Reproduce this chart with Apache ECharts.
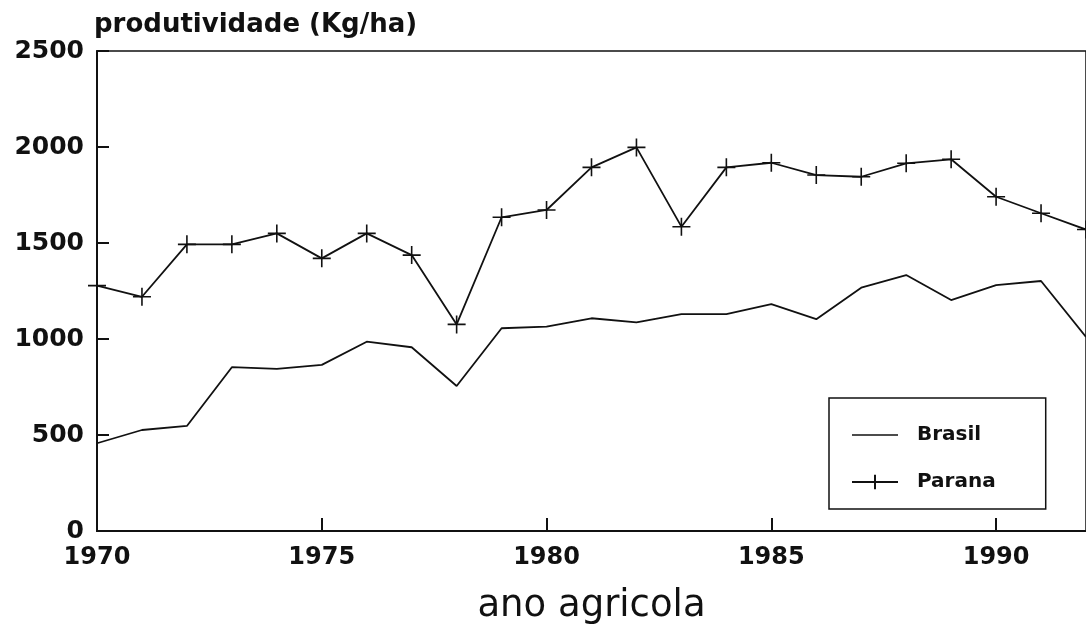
<!DOCTYPE html>
<html>
<head>
<meta charset="utf-8">
<script src="https://cdn.jsdelivr.net/npm/echarts@6/dist/echarts.min.js"></script>
<style>
  html, body { margin: 0; padding: 0; background: #fff; }
  #chart { width: 1086px; height: 635px; }
</style>
</head>
<body>
<div id="chart"></div>
<script>
// ano agricola
const years = [1970, 1971, 1972, 1973, 1974, 1975, 1976, 1977, 1978, 1979, 1980,
  1981, 1982, 1983, 1984, 1985, 1986, 1987, 1988, 1989, 1990, 1991, 1992];
// produtividade (Kg/ha)
const brasil = [457, 526, 547, 853, 844, 865, 986, 957, 755, 1056, 1064,
  1108, 1087, 1130, 1130, 1182, 1103, 1267, 1333, 1203, 1281, 1302, 1011];
const parana = [1278, 1220, 1493, 1493, 1550, 1420, 1550, 1437, 1076, 1634, 1672,
  1894, 1998, 1585, 1894, 1918, 1854, 1845, 1915, 1936, 1741, 1655, 1570];
const xTicks = [1970, 1975, 1980, 1985, 1990];
const yTicks = [0, 500, 1000, 1500, 2000, 2500];

const ink = '#111';
const plus = 'path://M0,9L18,9M9,0L9,18';
// plain line for the Brasil legend entry (corner points keep the box size)
const dash = 'path://M0,0L0,0M0,8.2L46,8.2L46,9.8L0,9.8ZM46,18L46,18';

const chart = echarts.init(document.getElementById('chart'));
chart.setOption({
  animation: false,
  backgroundColor: '#fff',
  title: {
    text: 'produtividade (Kg/ha)',
    left: 94,
    top: 12,
    padding: 0,
    textStyle: { fontFamily: 'DejaVu Sans', fontWeight: 'bold', fontSize: 26, color: ink }
  },
  grid: {
    left: 97, right: -8, top: 51, bottom: 104,
    show: true, borderColor: ink, borderWidth: 1.5
  },
  legend: {
    data: [{ name: 'Brasil', icon: dash }, { name: 'Parana' }],
    orient: 'vertical',
    left: 829,
    top: 398,
    itemWidth: 46,
    itemHeight: 18,
    itemGap: 27,
    padding: [27, 50, 17, 22],
    borderColor: ink,
    borderWidth: 1.5,
    textStyle: { fontFamily: 'DejaVu Sans', fontWeight: 'bold', fontSize: 20, color: ink, padding: [0, 0, 0, 14] }
  },
  xAxis: {
    type: 'value',
    min: xTicks[0],
    max: years[years.length - 1],
    interval: 5,
    name: 'ano agricola',
    nameLocation: 'middle',
    nameGap: 57,
    nameTextStyle: { fontFamily: 'DejaVu Sans', fontSize: 37, color: ink },
    axisLine: { lineStyle: { color: ink, width: 2 } },
    axisTick: { inside: true, length: 13, lineStyle: { color: ink, width: 2 } },
    axisLabel: {
      margin: 15,
      showMaxLabel: false,
      fontFamily: 'DejaVu Sans', fontWeight: 'bold', fontSize: 24, color: ink,
      formatter: v => (xTicks.indexOf(v) >= 0 ? String(v) : '')
    },
    splitLine: { show: false }
  },
  yAxis: {
    type: 'value',
    min: yTicks[0],
    max: yTicks[yTicks.length - 1],
    interval: 500,
    axisLine: { show: true, lineStyle: { color: ink, width: 2 } },
    axisTick: { show: true, inside: true, length: 12, lineStyle: { color: ink, width: 2 } },
    axisLabel: {
      margin: 13,
      fontFamily: 'DejaVu Sans', fontWeight: 'bold', fontSize: 25, color: ink,
      formatter: v => String(v)
    },
    splitLine: { show: false }
  },
  series: [
    {
      name: 'Brasil',
      type: 'line',
      symbol: 'none',
      lineStyle: { color: ink, width: 1.8 },
      itemStyle: { color: ink },
      data: years.map((y, i) => [y, brasil[i]])
    },
    {
      name: 'Parana',
      type: 'line',
      symbol: plus,
      symbolSize: 18,
      showAllSymbol: true,
      lineStyle: { color: ink, width: 1.8 },
      itemStyle: { color: 'none', borderColor: ink, borderWidth: 1.6 },
      data: years.map((y, i) => [y, parana[i]])
    }
  ]
});
</script>
</body>
</html>
